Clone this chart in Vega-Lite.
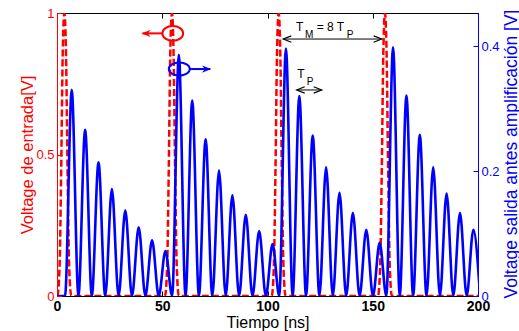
{
  "$schema": "https://vega.github.io/schema/vega-lite/v6.json",
  "width": 421,
  "height": 283,
  "autosize": "none",
  "padding": {"left": 57, "top": 13, "right": 41, "bottom": 35},
  "background": "white",
  "config": {
    "font": "Liberation Sans",
    "view": {"stroke": "black", "strokeWidth": 1},
    "axis": {"grid": false, "labelFont": "Liberation Sans", "titleFont": "Liberation Sans", "titleFontWeight": "normal", "labelOverlap": false, "labelFlush": false}
  },
  "layer": [
    {
      "layer": [
        {
          "data": {"values": [
            {"t": 0, "v": 0}, {"t": 0.2, "v": 0}, {"t": 1.2, "v": 0.1}, {"t": 2.0, "v": 0.45}, {"t": 2.7, "v": 0.85}, {"t": 3.5, "v": 1.0}, {"t": 4.3, "v": 0.85}, {"t": 5.0, "v": 0.45}, {"t": 5.8, "v": 0.1}, {"t": 6.8, "v": 0},
            {"t": 51.3, "v": 0}, {"t": 52.3, "v": 0.1}, {"t": 53.1, "v": 0.45}, {"t": 53.8, "v": 0.85}, {"t": 54.6, "v": 1.0}, {"t": 55.4, "v": 0.85}, {"t": 56.1, "v": 0.45}, {"t": 56.9, "v": 0.1}, {"t": 57.9, "v": 0},
            {"t": 102.0, "v": 0}, {"t": 103.0, "v": 0.1}, {"t": 103.8, "v": 0.45}, {"t": 104.5, "v": 0.85}, {"t": 105.3, "v": 1.0}, {"t": 106.1, "v": 0.85}, {"t": 106.8, "v": 0.45}, {"t": 107.6, "v": 0.1}, {"t": 108.6, "v": 0},
            {"t": 152.5, "v": 0}, {"t": 153.5, "v": 0.1}, {"t": 154.3, "v": 0.45}, {"t": 155.0, "v": 0.85}, {"t": 155.8, "v": 1.0}, {"t": 156.6, "v": 0.85}, {"t": 157.3, "v": 0.45}, {"t": 158.1, "v": 0.1}, {"t": 159.1, "v": 0},
            {"t": 200, "v": 0}
          ]},
          "mark": {"type": "line", "color": "#ff0000", "strokeWidth": 2.5, "strokeDash": [7, 3], "interpolate": "monotone", "clip": true},
          "encoding": {
            "x": {"field": "t", "type": "quantitative", "scale": {"domain": [0, 200], "nice": false},
              "axis": {"orient": "bottom", "values": [0, 50, 100, 150, 200], "title": "Tiempo [ns]", "titleColor": "black", "titleFontSize": 16, "titlePadding": 1, "labelFontSize": 14, "labelFontWeight": "bold", "labelColor": "black", "domainColor": "black", "tickColor": "black", "tickSize": -5, "labelPadding": 8}},
            "y": {"field": "v", "type": "quantitative", "scale": {"domain": [0, 1], "nice": false},
              "axis": {"orient": "left", "values": [0, 0.5, 1], "format": "~g", "title": "Voltage de entrada[V]", "titleColor": "#ff0000", "titleFontSize": 16.5, "titlePadding": 0, "labelFontSize": 13, "labelColor": "#ff0000", "domainColor": "#ff0000", "tickColor": "#ff0000", "tickSize": -5, "labelPadding": 8}}
          }
        },
        {
          "data": {"values": [{"t": 55.0, "v": 0.928}]},
          "mark": {"type": "point", "shape": "M-1,0A1,0.71,0,1,0,1,0A1,0.71,0,1,0,-1,0Z", "size": 428, "filled": false, "stroke": "#ff0000", "strokeWidth": 2, "opacity": 1},
          "encoding": {"x": {"field": "t", "type": "quantitative"}, "y": {"field": "v", "type": "quantitative"}}
        },
        {
          "data": {"values": [{"t": 40.6, "t2": 50.2, "v": 0.928}]},
          "mark": {"type": "rule", "color": "#ff0000", "strokeWidth": 2},
          "encoding": {"x": {"field": "t", "type": "quantitative"}, "x2": {"field": "t2"}, "y": {"field": "v", "type": "quantitative"}}
        },
        {
          "data": {"values": [{"t": 40.2, "v": 0.928}]},
          "mark": {"type": "point", "shape": "M0,0L2,-0.8L1.4,0L2,0.8Z", "size": 81, "filled": true, "color": "#ff0000", "opacity": 1},
          "encoding": {"x": {"field": "t", "type": "quantitative"}, "y": {"field": "v", "type": "quantitative"}}
        },
        {
          "data": {"values": [{"t": 58.1, "v": 0.802}]},
          "mark": {"type": "point", "shape": "M-1,0A1,0.63,0,1,0,1,0A1,0.63,0,1,0,-1,0Z", "size": 441, "filled": false, "stroke": "#0000ff", "strokeWidth": 2, "opacity": 1},
          "encoding": {"x": {"field": "t", "type": "quantitative"}, "y": {"field": "v", "type": "quantitative"}}
        },
        {
          "data": {"values": [{"t": 63.2, "t2": 72.8, "v": 0.802}]},
          "mark": {"type": "rule", "color": "#0000ff", "strokeWidth": 2},
          "encoding": {"x": {"field": "t", "type": "quantitative"}, "x2": {"field": "t2"}, "y": {"field": "v", "type": "quantitative"}}
        },
        {
          "data": {"values": [{"t": 73.2, "v": 0.802}]},
          "mark": {"type": "point", "shape": "M0,0L-2,-0.8L-1.4,0L-2,0.8Z", "size": 81, "filled": true, "color": "#0000ff", "opacity": 1},
          "encoding": {"x": {"field": "t", "type": "quantitative"}, "y": {"field": "v", "type": "quantitative"}}
        },
        {
          "data": {"values": [{"t": 107.5, "t2": 154.25, "v": 0.908}, {"t": 113.87, "t2": 125.75, "v": 0.728}]},
          "mark": {"type": "rule", "color": "black", "strokeWidth": 1},
          "encoding": {"x": {"field": "t", "type": "quantitative"}, "x2": {"field": "t2"}, "y": {"field": "v", "type": "quantitative"}}
        },
        {
          "data": {"values": [{"t": 107.5, "v": 0.908}, {"t": 113.87, "v": 0.728}]},
          "mark": {"type": "point", "shape": "M2,-0.8L0,0L2,0.8", "size": 64, "filled": false, "stroke": "black", "strokeWidth": 1.2, "opacity": 1},
          "encoding": {"x": {"field": "t", "type": "quantitative"}, "y": {"field": "v", "type": "quantitative"}}
        },
        {
          "data": {"values": [{"t": 154.25, "v": 0.908}, {"t": 125.75, "v": 0.728}]},
          "mark": {"type": "point", "shape": "M-2,-0.8L0,0L-2,0.8", "size": 64, "filled": false, "stroke": "black", "strokeWidth": 1.2, "opacity": 1},
          "encoding": {"x": {"field": "t", "type": "quantitative"}, "y": {"field": "v", "type": "quantitative"}}
        },
        {
          "data": {"values": [{"t": 113.54, "v": 0.9375, "label": "T"}, {"t": 123.37, "v": 0.9375, "label": "= 8 T"}, {"t": 114.16, "v": 0.7693, "label": "T"}]},
          "mark": {"type": "text", "align": "left", "baseline": "alphabetic", "fontSize": 12, "color": "black"},
          "encoding": {"x": {"field": "t", "type": "quantitative"}, "y": {"field": "v", "type": "quantitative"}, "text": {"field": "label"}}
        },
        {
          "data": {"values": [{"t": 117.81, "v": 0.9106, "label": "M"}, {"t": 137.62, "v": 0.9106, "label": "P"}, {"t": 118.62, "v": 0.7456, "label": "P"}]},
          "mark": {"type": "text", "align": "left", "baseline": "alphabetic", "fontSize": 10, "color": "black"},
          "encoding": {"x": {"field": "t", "type": "quantitative"}, "y": {"field": "v", "type": "quantitative"}, "text": {"field": "label"}}
        }
      ]
    },
    {
      "data": {"values": [
        {"t": 0, "b": 0}, {"t": 3.82, "b": 0},
        {"t": 7.00, "b": 0.330}, {"t": 10.18, "b": 0},
        {"t": 13.36, "b": 0.266}, {"t": 16.54, "b": 0},
        {"t": 19.72, "b": 0.214}, {"t": 22.90, "b": 0},
        {"t": 26.08, "b": 0.171}, {"t": 29.26, "b": 0},
        {"t": 32.44, "b": 0.137}, {"t": 35.62, "b": 0},
        {"t": 38.80, "b": 0.110}, {"t": 41.98, "b": 0},
        {"t": 45.16, "b": 0.089}, {"t": 48.34, "b": 0},
        {"t": 51.52, "b": 0.072}, {"t": 54.70, "b": 0},
        {"t": 57.88, "b": 0.386}, {"t": 61.06, "b": 0},
        {"t": 64.24, "b": 0.313}, {"t": 67.42, "b": 0},
        {"t": 70.60, "b": 0.251}, {"t": 73.78, "b": 0},
        {"t": 76.96, "b": 0.201}, {"t": 80.14, "b": 0},
        {"t": 83.32, "b": 0.161}, {"t": 86.50, "b": 0},
        {"t": 89.68, "b": 0.130}, {"t": 92.86, "b": 0},
        {"t": 96.04, "b": 0.104}, {"t": 99.22, "b": 0},
        {"t": 102.40, "b": 0.083}, {"t": 105.58, "b": 0},
        {"t": 108.76, "b": 0.396}, {"t": 111.94, "b": 0},
        {"t": 115.12, "b": 0.320}, {"t": 118.30, "b": 0},
        {"t": 121.48, "b": 0.257}, {"t": 124.66, "b": 0},
        {"t": 127.84, "b": 0.206}, {"t": 131.02, "b": 0},
        {"t": 134.20, "b": 0.165}, {"t": 137.38, "b": 0},
        {"t": 140.56, "b": 0.133}, {"t": 143.74, "b": 0},
        {"t": 146.92, "b": 0.106}, {"t": 150.10, "b": 0},
        {"t": 153.28, "b": 0.085}, {"t": 156.46, "b": 0},
        {"t": 159.64, "b": 0.398}, {"t": 162.82, "b": 0},
        {"t": 166.00, "b": 0.321}, {"t": 169.18, "b": 0},
        {"t": 172.36, "b": 0.258}, {"t": 175.54, "b": 0},
        {"t": 178.72, "b": 0.206}, {"t": 181.90, "b": 0},
        {"t": 185.08, "b": 0.164}, {"t": 188.26, "b": 0},
        {"t": 191.44, "b": 0.133}, {"t": 194.62, "b": 0},
        {"t": 197.80, "b": 0.106}, {"t": 200.98, "b": 0}
      ]},
      "mark": {"type": "line", "color": "#0000ff", "strokeWidth": 2.6, "interpolate": "monotone", "clip": true},
      "encoding": {
        "x": {"field": "t", "type": "quantitative", "scale": {"domain": [0, 200], "nice": false},
          "axis": {"orient": "top", "values": [0, 50, 100, 150, 200], "labels": false, "title": null, "domainColor": "black", "tickColor": "black", "tickSize": -5}},
        "y": {"field": "b", "type": "quantitative", "scale": {"domain": [0, 0.453], "nice": false},
          "axis": {"orient": "right", "values": [0, 0.2, 0.4], "format": "~g", "title": "Voltage salida antes amplificación [V]", "titleColor": "#0000ff", "titleFontSize": 17.5, "titleAngle": -90, "titleBaseline": "top", "titleAlign": "left", "titleY": 285, "titlePadding": 3, "labelFontSize": 13, "labelColor": "#0000ff", "domainColor": "#0000ff", "tickColor": "#0000ff", "tickSize": -5, "labelPadding": 8}}
      }
    }
  ],
  "resolve": {"scale": {"x": "independent", "y": "independent"}}
}
